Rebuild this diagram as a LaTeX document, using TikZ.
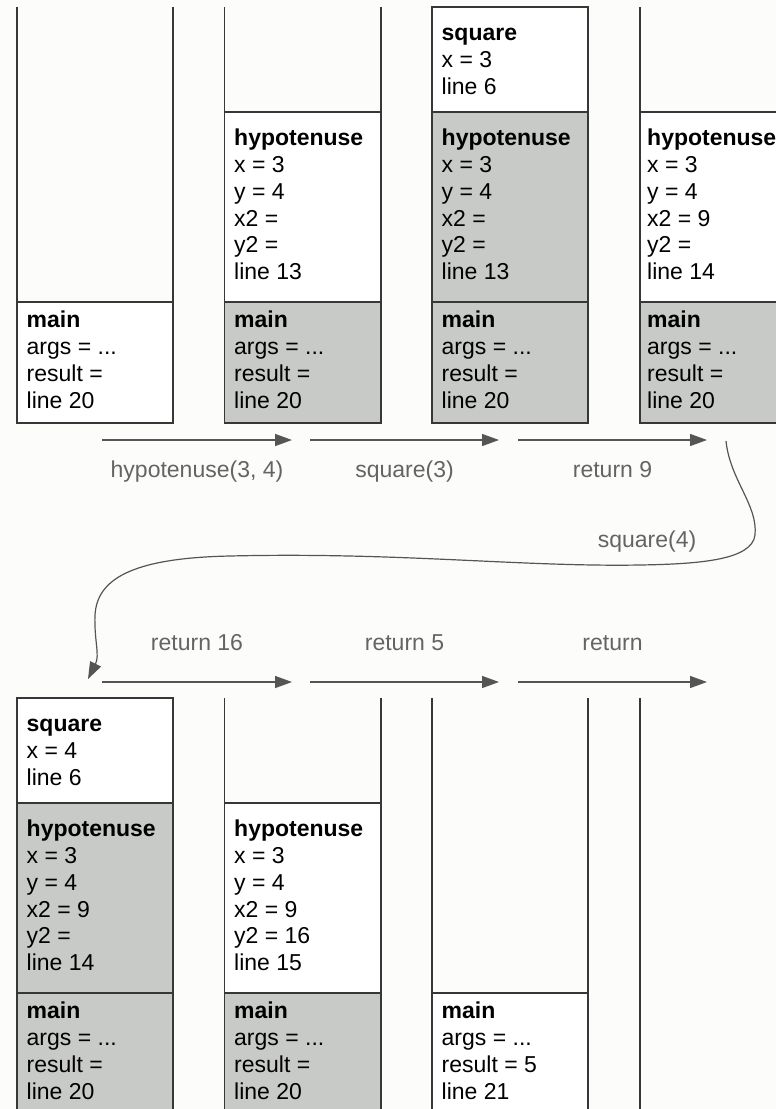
\documentclass[tikz,border=0pt]{standalone}
\usepackage{fontspec}
\setmainfont{Liberation Sans}
\usetikzlibrary{arrows.meta}
\definecolor{bgc}{RGB}{252,252,250}
\definecolor{active}{RGB}{200,202,199}
\definecolor{edge}{RGB}{55,55,55}
\definecolor{flow}{RGB}{85,85,85}
\definecolor{flowtext}{RGB}{100,100,100}
\newcommand{\strtline}{\rule{0pt}{20pt}}
\tikzset{
  frame/.style={draw=edge, line width=1.3pt},
  idle/.style={frame, fill=white},
  busy/.style={frame, fill=active},
  ftext/.style={anchor=north west, inner sep=0pt, align=left,
    font=\fontsize{23}{26.7}\selectfont, text=black},
  flowarrow/.style={draw=flow, line width=1.4pt, -{Triangle[length=17pt,width=12pt]}},
  flowlabel/.style={anchor=base, inner sep=0pt, font=\fontsize{23}{27}\selectfont, text=flowtext},
}
\begin{document}
\begin{tikzpicture}[x=1pt,y=-1pt]
\useasboundingbox (0,0) rectangle (776,1109);
\fill[bgc] (0,0) rectangle (776,1109);

% ---------- top row ----------
% column 1
\draw[frame] (17,7) -- (17,302);
\draw[frame] (173,7) -- (173,302);
\filldraw[idle] (17,302) rectangle (173,423);
\node[ftext] (t1main) at (26.5,307.7) {\strtline\textbf{main}\\args = ...\\result =\\line 20};

% column 2
\draw[frame] (224.5,7) -- (224.5,112);
\draw[frame] (381,7) -- (381,112);
\filldraw[idle] (224.5,112) rectangle (381,302);
\filldraw[busy] (224.5,302) rectangle (381,423);
\node[ftext] (t2hyp) at (234,125.7) {\strtline\textbf{hypotenuse}\\x = 3\\y = 4\\x2 =\\y2 =\\line 13};
\node[ftext] (t2main) at (234,307.7) {\strtline\textbf{main}\\args = ...\\result =\\line 20};

% column 3
\filldraw[idle] (432,7) rectangle (588,112);
\filldraw[busy] (432,112) rectangle (588,302);
\filldraw[busy] (432,302) rectangle (588,423);
\node[ftext] (t3sq) at (441.5,20.7) {\strtline\textbf{square}\\x = 3\\line 6};
\node[ftext] (t3hyp) at (441.5,125.7) {\strtline\textbf{hypotenuse}\\x = 3\\y = 4\\x2 =\\y2 =\\line 13};
\node[ftext] (t3main) at (441.5,307.7) {\strtline\textbf{main}\\args = ...\\result =\\line 20};

% column 4
\draw[frame] (640,7) -- (640,112);
\filldraw[idle] (640,112) rectangle (800,302);
\filldraw[busy] (640,302) rectangle (800,423);
\node[ftext] (t4hyp) at (647,125.7) {\strtline\textbf{hypotenuse}\\x = 3\\y = 4\\x2 = 9\\y2 =\\line 14};
\node[ftext] (t4main) at (647,307.7) {\strtline\textbf{main}\\args = ...\\result =\\line 20};

% ---------- bottom row ----------
% column 1
\filldraw[idle] (17,698) rectangle (173,803);
\filldraw[busy] (17,803) rectangle (173,993);
\filldraw[busy] (17,993) rectangle (173,1125);
\node[ftext] (b1sq) at (26.5,711.7) {\strtline\textbf{square}\\x = 4\\line 6};
\node[ftext] (b1hyp) at (26.5,816.7) {\strtline\textbf{hypotenuse}\\x = 3\\y = 4\\x2 = 9\\y2 =\\line 14};
\node[ftext] (b1main) at (26.5,998.7) {\strtline\textbf{main}\\args = ...\\result =\\line 20};

% column 2
\draw[frame] (224.5,698) -- (224.5,803);
\draw[frame] (381,698) -- (381,803);
\filldraw[idle] (224.5,803) rectangle (381,993);
\filldraw[busy] (224.5,993) rectangle (381,1125);
\node[ftext] (b2hyp) at (234,816.7) {\strtline\textbf{hypotenuse}\\x = 3\\y = 4\\x2 = 9\\y2 = 16\\line 15};
\node[ftext] (b2main) at (234,998.7) {\strtline\textbf{main}\\args = ...\\result =\\line 20};

% column 3
\draw[frame] (432,698) -- (432,993);
\draw[frame] (588,698) -- (588,993);
\filldraw[idle] (432,993) rectangle (588,1125);
\node[ftext] (b3main) at (441.5,998.7) {\strtline\textbf{main}\\args = ...\\result = 5\\line 21};

% column 4
\draw[frame] (640,698) -- (640,1125);

% ---------- flow arrows ----------
\coordinate (a1s) at (102,440);  \coordinate (a1e) at (292,440);
\coordinate (a2s) at (310,440);  \coordinate (a2e) at (499,440);
\coordinate (a3s) at (518,440);  \coordinate (a3e) at (707,440);
\coordinate (b1s) at (102,682);  \coordinate (b1e) at (292,682);
\coordinate (b2s) at (310,682);  \coordinate (b2e) at (499,682);
\coordinate (b3s) at (518,682);  \coordinate (b3e) at (707,682);
\coordinate (cs) at (726,441);   \coordinate (ce) at (88,679);

\draw[flowarrow] (a1s) -- (a1e);
\draw[flowarrow] (a2s) -- (a2e);
\draw[flowarrow] (a3s) -- (a3e);
\draw[flowarrow] (b1s) -- (b1e);
\draw[flowarrow] (b2s) -- (b2e);
\draw[flowarrow] (b3s) -- (b3e);
\draw[flowarrow, line width=1.2pt] (cs) .. controls (730,480) and (758,505) .. (755,535)
  .. controls (752,560) and (700,564) .. (640,565)
  .. controls (520,567) and (400,552) .. (230,556)
  .. controls (130,558) and (97,580) .. (95,615)
  .. controls (94,640) and (100,655) .. (ce);

\node[flowlabel] (l1) at (197,477) {hypotenuse(3, 4)};
\node[flowlabel] (l2) at (404.5,477) {square(3)};
\node[flowlabel] (l3) at (612.5,477) {return 9};
\node[flowlabel] (l4) at (647,547) {square(4)};
\node[flowlabel] (l5) at (197,650) {return 16};
\node[flowlabel] (l6) at (404.5,650) {return 5};
\node[flowlabel] (l7) at (612.5,650) {return};
\end{tikzpicture}
\end{document}
